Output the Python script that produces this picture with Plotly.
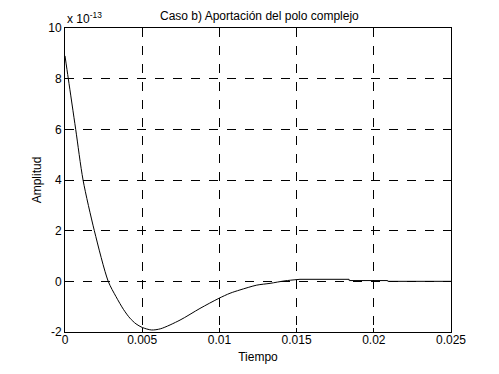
import plotly.graph_objects as go

# Time (s) and amplitude (in units of 1e-13), smooth part of the response
tiempo = [0.0, 0.000214, 0.000693, 0.00117, 0.0019, 0.0028, 0.0033, 0.0038, 0.0042,
          0.0046, 0.0050, 0.0056, 0.0062, 0.00745, 0.00874, 0.00997, 0.01069, 0.01133,
          0.01242, 0.01328, 0.01425, 0.01522]
amplitud = [8.9, 8.0, 6.0, 4.0, 2.0, 0.0, -0.6, -1.12, -1.45,
            -1.68, -1.82, -1.92, -1.87, -1.53, -1.07, -0.67, -0.47, -0.34,
            -0.15, -0.08, 0.02, 0.08]
# Tail of the response (flat steps)
tiempo_cola = [0.01522, 0.0184, 0.01841, 0.0209, 0.02091, 0.025]
amplitud_cola = [0.08, 0.08, 0.03, 0.03, 0.0, 0.0]

x_ticks = [0, 0.005, 0.01, 0.015, 0.02, 0.025]
x_ticklabels = ["0", "0.005", "0.01", "0.015", "0.02", "0.025"]
y_ticks = [-2, 0, 2, 4, 6, 8, 10]
y_ticklabels = ["-2", "0", "2", "4", "6", "8", "10"]

font_family = "Liberation Sans, Arial, sans-serif"

fig = go.Figure()
fig.add_trace(go.Scatter(x=tiempo, y=amplitud, mode="lines",
                         line=dict(color="black", width=1, shape="spline", smoothing=0.8),
                         showlegend=False))
fig.add_trace(go.Scatter(x=tiempo_cola, y=amplitud_cola, mode="lines",
                         line=dict(color="black", width=1), showlegend=False))

axis_common = dict(showline=True, linecolor="black", linewidth=1, mirror=True,
                   showgrid=True, gridcolor="black", gridwidth=1, griddash="dash",
                   zeroline=False, ticks="inside", ticklen=4, tickcolor="black",
                   tickfont=dict(family=font_family, size=12, color="black"))

# The page body adds an 8px offset, so the figure is sized/margined to compensate
fig.update_layout(
    width=491, height=366,
    margin=dict(l=57, r=48, t=20, b=34),
    paper_bgcolor="white", plot_bgcolor="white",
    font=dict(family=font_family, size=12, color="black"),
    title=dict(text="Caso b) Aportación del polo complejo", x=0.512, xanchor="center",
               y=0.99, yanchor="top", font=dict(size=12, color="black")),
    xaxis=dict(range=[0, 0.025], tickvals=x_ticks, ticktext=x_ticklabels,
               ticklabelstandoff=-3,
               title=dict(text="Tiempo", standoff=6, font=dict(size=12)), **axis_common),
    yaxis=dict(range=[-2, 10], tickvals=y_ticks, ticktext=y_ticklabels,
               title=dict(text="Amplitud", standoff=4, font=dict(size=12)), **axis_common),
    annotations=[dict(text="x 10<sup>-13</sup>", xref="paper", yref="paper",
                      x=0, y=1, xanchor="left", yanchor="bottom", showarrow=False,
                      font=dict(family=font_family, size=12, color="black"))],
)

fig.write_html("out.html")
